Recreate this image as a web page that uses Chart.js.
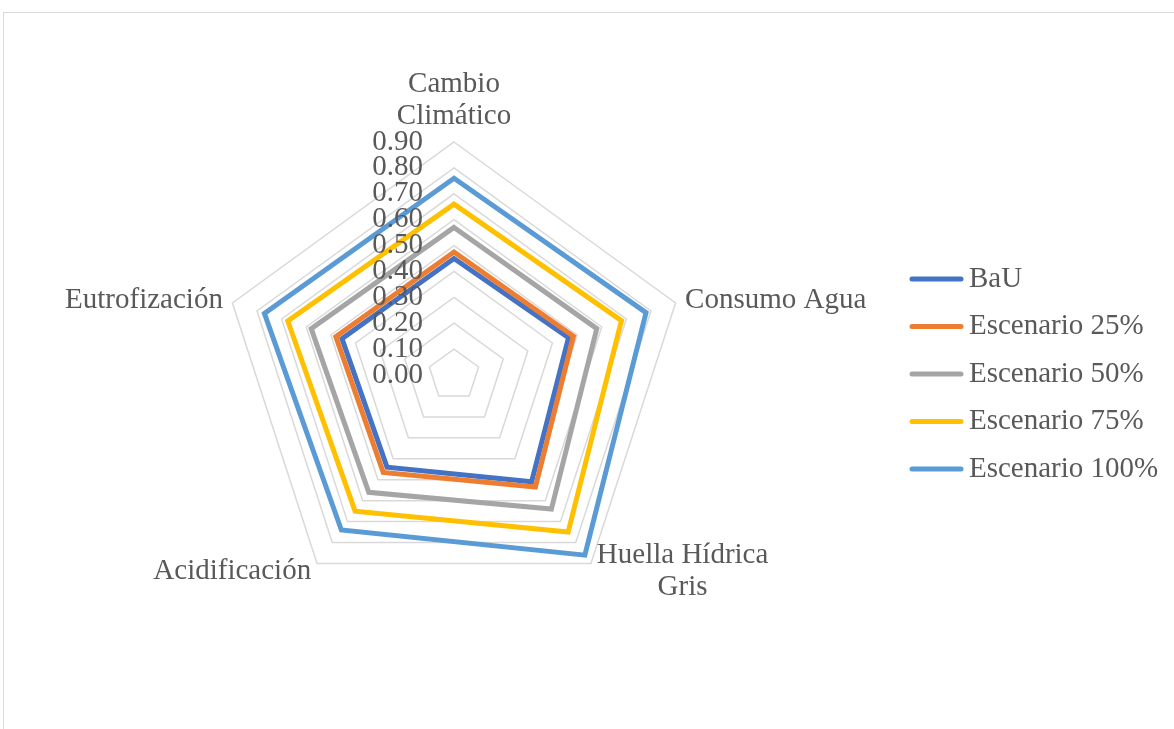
<!DOCTYPE html>
<html>
<head>
<meta charset="utf-8">
<script src="https://cdn.jsdelivr.net/npm/chart.js@4.4.1/dist/chart.umd.min.js"></script>
<style>
  html, body { margin: 0; padding: 0; background: #fff; overflow: hidden; }
  #frame { position: absolute; left: 3px; top: 12px; width: 1300px; height: 900px; border-left: 1px solid #d9d9d9; border-top: 1px solid #d9d9d9; }
  #wrap { position: absolute; left: 0; top: 0; width: 1174px; height: 729px; }
</style>
</head>
<body>
<div id="frame"></div>
<div id="wrap"><canvas id="chart-radar"></canvas></div>
<script>
const categories = [['Cambio', 'Climático'], 'Consumo Agua', ['Huella Hídrica', 'Gris'], 'Acidificación', 'Eutrofización'];
const seriesNames = ['BaU', 'Escenario 25%', 'Escenario 50%', 'Escenario 75%', 'Escenario 100%'];
const bau = [0.45, 0.465, 0.51, 0.44, 0.455];
const esc25 = [0.475, 0.485, 0.535, 0.465, 0.48];
const esc50 = [0.57, 0.58, 0.64, 0.56, 0.58];
const esc75 = [0.66, 0.68, 0.75, 0.65, 0.675];
const esc100 = [0.76, 0.78, 0.86, 0.74, 0.77];
const colors = ['#4472c4', '#ed7d31', '#a5a5a5', '#ffc000', '#5b9bd5'];

const FONT = '29px "Liberation Serif", "Times New Roman", serif';
const TEXT = '#595959';

// tick labels left of the top spoke, drawn over the lines
const tickLabelPlugin = {
  id: 'tickLabels',
  afterDatasetsDraw(chart) {
    const s = chart.scales.r;
    const ctx = chart.ctx;
    ctx.save();
    ctx.font = FONT;
    ctx.fillStyle = TEXT;
    ctx.textAlign = 'right';
    ctx.textBaseline = 'middle';
    s.ticks.forEach((t) => {
      const d = s.getDistanceFromCenterForValue(t.value);
      ctx.fillText(t.label, s.xCenter - 31, s.yCenter - d);
    });
    ctx.restore();
  }
};

// category labels placed like Excel: side labels anchored at the point, lines centred
const pointLabelPlugin = {
  id: 'pointLabelsXl',
  afterDraw(chart) {
    const s = chart.scales.r;
    const ctx = chart.ctx;
    const lh = 32;
    ctx.save();
    ctx.font = FONT;
    ctx.fillStyle = TEXT;
    ctx.textBaseline = 'middle';
    ctx.textAlign = 'center';
    chart.data.labels.forEach((lab, i) => {
      const lines = Array.isArray(lab) ? lab : [lab];
      const w = Math.max(...lines.map((l) => ctx.measureText(l).width));
      const h = lines.length * lh;
      const p = s.getPointPosition(i, s.drawingArea + 10);
      let cx, top;
      if (Math.abs(p.x - s.xCenter) < 1) {
        cx = p.x;
        top = p.y - h;
      } else if (p.x > s.xCenter) {
        cx = p.x + w / 2;
        top = p.y - h / 2;
      } else {
        cx = p.x - w / 2;
        top = p.y - h / 2;
      }
      lines.forEach((l, k) => ctx.fillText(l, cx, top + lh / 2 + k * lh));
    });
    ctx.restore();
  }
};

const legendPlugin = {
  id: 'legendXl',
  afterDraw(chart) {
    const s = chart.scales.r;
    const ctx = chart.ctx;
    const x0 = chart.chartArea.right + 4;
    const gap = 47.5;
    const n = chart.data.datasets.length;
    ctx.save();
    ctx.font = FONT;
    ctx.textBaseline = 'middle';
    ctx.textAlign = 'left';
    chart.data.datasets.forEach((ds, i) => {
      const y = s.yCenter + (i - (n - 1) / 2) * gap - 1;
      ctx.strokeStyle = ds.borderColor;
      ctx.lineWidth = 5;
      ctx.lineCap = 'round';
      ctx.beginPath();
      ctx.moveTo(x0, y);
      ctx.lineTo(x0 + 49, y);
      ctx.stroke();
      ctx.fillStyle = TEXT;
      ctx.fillText(ds.label, x0 + 57, y);
    });
    ctx.restore();
  }
};

const seriesData = [bau, esc25, esc50, esc75, esc100];

new Chart(document.getElementById('chart-radar'), {
  type: 'radar',
  data: {
    labels: categories,
    datasets: seriesData.map((d, i) => ({
      label: seriesNames[i],
      data: d,
      borderColor: colors[i],
      backgroundColor: colors[i],
      borderWidth: 5,
      borderJoinStyle: 'miter',
      pointRadius: 0,
      pointHoverRadius: 0,
      fill: false,
      order: seriesData.length - i
    }))
  },
  options: {
    responsive: true,
    maintainAspectRatio: false,
    animation: false,
    layout: { padding: { top: 142, bottom: 121, left: 0, right: 266 } },
    scales: {
      r: {
        min: 0,
        max: 0.9,
        ticks: { stepSize: 0.1, display: false, callback: (v) => v.toFixed(2) },
        grid: { color: '#d9d9d9', lineWidth: 1.5 },
        angleLines: { display: false },
        pointLabels: { display: false }
      }
    },
    plugins: { legend: { display: false }, tooltip: { enabled: false } }
  },
  plugins: [tickLabelPlugin, pointLabelPlugin, legendPlugin]
});
</script>
</body>
</html>
